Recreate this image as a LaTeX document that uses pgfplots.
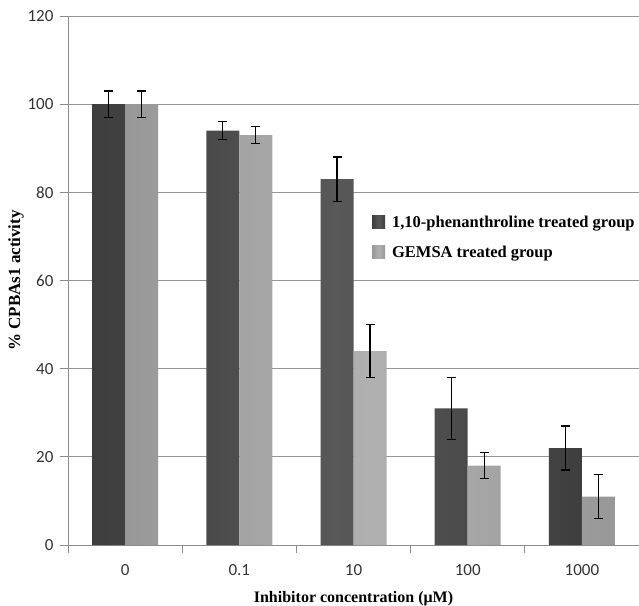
\documentclass[border=0pt]{standalone}
\usepackage{fontspec}
\setmainfont{Liberation Serif}
\newfontfamily\tickfont{Carlito}
\usepackage{pgfplots}
\pgfplotsset{compat=1.18}
\definecolor{darkbar}{RGB}{88,88,88}
\definecolor{darkedge}{RGB}{62,62,62}
\definecolor{lightbar}{RGB}{176,176,176}
\definecolor{lightedge}{RGB}{152,152,152}
\definecolor{axisgray}{RGB}{140,140,140}
\definecolor{gridgray}{RGB}{150,150,150}
\begin{document}
\begin{tikzpicture}
\begin{axis}[
  name=main,
  scale only axis,
  width=571pt, height=529pt,
  xmin=-0.5, xmax=4.5,
  ymin=0, ymax=120,
  ytick={0,20,...,120},
  xtick={-0.5,0.5,1.5,2.5,3.5,4.5},
  xticklabels={0,0.1,10,100,1000},
  x tick label as interval,
  axis x line*=bottom,
  axis y line*=left,
  axis line style={axisgray, line width=0.8pt},
  tick style={axisgray, line width=0.8pt},
  tick align=outside,
  major tick length=8pt,
  ymajorgrids,
  major grid style={gridgray, line width=0.8pt},
  tick label style={font=\tickfont\fontsize{17}{17}\selectfont, text=black!80},
  /pgf/number format/assume math mode=true,
  xticklabel style={yshift=-8pt},
  yticklabel style={xshift=-3pt},
  xlabel={\bfseries Inhibitor concentration (μM)},
  ylabel={\bfseries \% CPBAs1 activity},
  xlabel style={font=\fontsize{16}{18}\selectfont, yshift=-9pt},
  ylabel style={font=\fontsize{17}{19}\selectfont, yshift=-3pt},
  ybar=0pt,
  bar width=33pt,
  error bars/y dir=both,
  error bars/y explicit,
  error bars/error bar style={black, line width=1.2pt},
  error bars/error mark options={black, rotate=90, mark size=4.5pt, line width=1.2pt},
  legend style={at={(0.527,0.630)}, anchor=north west, draw=none, fill=none,
    font=\bfseries\fontsize{16.5}{18}\selectfont, row sep=13pt,
    /tikz/every odd column/.append style={column sep=5pt}},
  legend cell align=left,
]
\addplot[draw=none, left color=darkedge, right color=darkedge, middle color=darkbar,
  legend image code/.code={\fill[darkbar] (0pt,-6.5pt) rectangle (13pt,6.5pt);}]
  coordinates {(0,100) +- (0,3) (1,94) +- (0,2) (2,83) +- (0,5) (3,31) +- (0,7) (4,22) +- (0,5)};
\addplot[draw=none, left color=lightedge, right color=lightedge, middle color=lightbar,
  legend image code/.code={\fill[lightbar] (0pt,-6.5pt) rectangle (13pt,6.5pt);}]
  coordinates {(0,100) +- (0,3) (1,93) +- (0,2) (2,44) +- (0,6) (3,18) +- (0,3) (4,11) +- (0,5)};
\legend{{1,10-phenanthroline treated group}, {GEMSA treated group}}
\end{axis}
\pgfresetboundingbox
\path ([shift={(-68pt,-60pt)}]main.south west) rectangle ([shift={(0pt,16pt)}]main.north east);
\end{tikzpicture}
\end{document}
